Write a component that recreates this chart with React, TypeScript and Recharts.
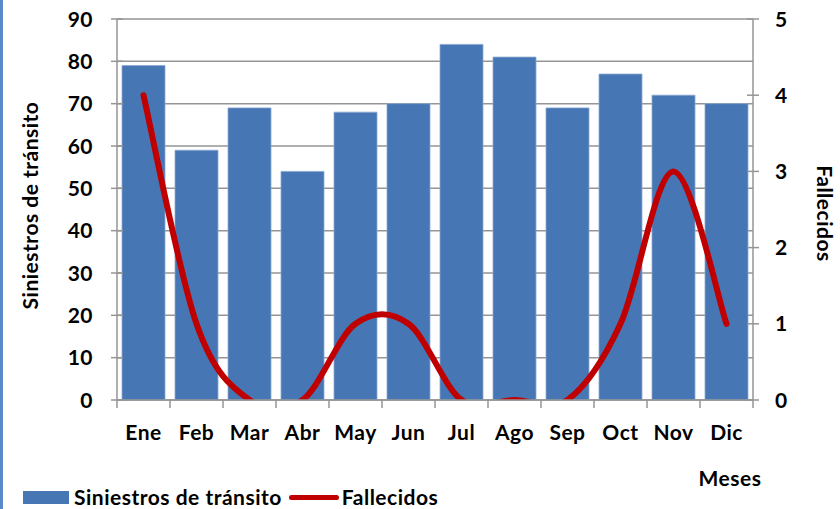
import React from 'react';
import { ComposedChart, Bar, Line, XAxis, YAxis, CartesianGrid, Legend, Label } from 'recharts';

const months = ['Ene', 'Feb', 'Mar', 'Abr', 'May', 'Jun', 'Jul', 'Ago', 'Sep', 'Oct', 'Nov', 'Dic'];
const siniestros = [79, 59, 69, 54, 68, 70, 84, 81, 69, 77, 72, 70];
const fallecidos = [4, 1, 0, 0, 1, 1, 0, 0, 0, 1, 3, 1];
const leftTicks = [0, 10, 20, 30, 40, 50, 60, 70, 80, 90];
const rightTicks = [0, 1, 2, 3, 4, 5];

const data = months.map((m, i) => ({ mes: m, siniestros: siniestros[i], fallecidos: fallecidos[i] }));

const W = 840;
const H = 509;
const MARGIN = { top: 19, right: 27, left: 57, bottom: 69 };
const Y_W = 60;
const X_H = 40;
const PLOT_W = W - MARGIN.left - MARGIN.right - 2 * Y_W;
const BAND = PLOT_W / months.length;

const BAR_COLOR = '#4676b3';
const LINE_COLOR = '#c00000';
const GRID = '#959595';
const FONT = "Lato, 'Open Sans', sans-serif";
const FS = 21;
const LS = 0.5;

// Excel-like smoothed line (Catmull-Rom as cubic Bezier)
function excelSmooth(context: any) {
  let pts: number[][] = [];
  return {
    areaStart() {},
    areaEnd() {},
    lineStart() {
      pts = [];
    },
    point(x: number, y: number) {
      pts.push([+x, +y]);
    },
    lineEnd() {
      const n = pts.length;
      if (!n) return;
      context.moveTo(pts[0][0], pts[0][1]);
      for (let i = 0; i < n - 1; i++) {
        const p0 = pts[i - 1] || pts[i];
        const p1 = pts[i];
        const p2 = pts[i + 1];
        const p3 = pts[i + 2] || p2;
        context.bezierCurveTo(
          p1[0] + (p2[0] - p0[0]) / 6,
          p1[1] + (p2[1] - p0[1]) / 6,
          p2[0] - (p3[0] - p1[0]) / 6,
          p2[1] - (p3[1] - p1[1]) / 6,
          p2[0],
          p2[1]
        );
      }
    },
  };
}

const textStyle = { fontFamily: FONT, fontWeight: 700, fontSize: FS, fill: '#000', letterSpacing: LS } as const;

const LeftTick = (props: any) => {
  const { x, y, payload } = props;
  return (
    <g>
      <line x1={x - 6} x2={x + 6} y1={y} y2={y} stroke={GRID} strokeWidth={1.5} />
      <text x={x - 24} y={y} dy="0.36em" textAnchor="end" style={textStyle}>
        {payload.value}
      </text>
    </g>
  );
};

const RightTick = (props: any) => {
  const { x, y, payload } = props;
  return (
    <g>
      <line x1={x - 6} x2={x + 6} y1={y} y2={y} stroke={GRID} strokeWidth={1.5} />
      <text x={x + 22} y={y} dy="0.36em" textAnchor="start" style={textStyle}>
        {payload.value}
      </text>
    </g>
  );
};

const XTick = (props: any) => {
  const { x, y, payload, index } = props;
  return (
    <g>
      <line x1={x - BAND / 2} x2={x - BAND / 2} y1={y} y2={y + 8} stroke={GRID} strokeWidth={1.5} />
      {index === months.length - 1 && (
        <line x1={x + BAND / 2} x2={x + BAND / 2} y1={y} y2={y + 8} stroke={GRID} strokeWidth={1.5} />
      )}
      <text x={x} y={y + 32} dy="0.36em" textAnchor="middle" style={textStyle}>
        {payload.value}
      </text>
    </g>
  );
};

const LeftTitle = (props: any) => {
  const vb = props.viewBox || { x: MARGIN.left, y: MARGIN.top, width: Y_W, height: 381 };
  const cx = vb.x - 27;
  const cy = vb.y + vb.height / 2 - 4;
  return (
    <text x={cx} y={cy} transform={`rotate(-90 ${cx} ${cy})`} textAnchor="middle" dy="0.36em" style={textStyle}>
      Siniestros de tránsito
    </text>
  );
};

const RightTitle = (props: any) => {
  const vb = props.viewBox || { x: W - MARGIN.right - Y_W, y: MARGIN.top, width: Y_W, height: 381 };
  const cx = vb.x + vb.width + 12;
  const cy = vb.y + vb.height / 2 + 4;
  return (
    <text x={cx} y={cy} transform={`rotate(90 ${cx} ${cy})`} textAnchor="middle" dy="0.36em" style={textStyle}>
      Fallecidos
    </text>
  );
};

const XTitle = (props: any) => {
  const vb = props.viewBox || { x: MARGIN.left + Y_W, y: 400, width: PLOT_W, height: X_H };
  const cx = vb.x + vb.width - 23;
  const cy = vb.y + 78;
  return (
    <text x={cx} y={cy} textAnchor="middle" dy="0.36em" style={textStyle}>
      Meses
    </text>
  );
};

const LegendContent = (props: any) => {
  const items = [...(props.payload || [])].sort((a: any, b: any) => (a.type === 'line' ? 1 : 0) - (b.type === 'line' ? 1 : 0));
  return (
    <div style={{ display: 'flex', alignItems: 'center', fontFamily: FONT, fontWeight: 700, fontSize: FS, letterSpacing: LS, color: '#000', whiteSpace: 'nowrap', lineHeight: '22px' }}>
      {items.map((it: any, i: number) => (
        <div key={i} style={{ display: 'flex', alignItems: 'center' }}>
          {it.type === 'line' ? (
            <span style={{ display: 'inline-block', width: 50, height: 5, borderRadius: 3, background: it.color, margin: '0 3px 0 7px' }} />
          ) : (
            <span style={{ display: 'inline-block', width: 46, height: 13, background: it.color, marginRight: 5 }} />
          )}
          <span>{it.value}</span>
        </div>
      ))}
    </div>
  );
};

export default function App() {
  return (
    <div style={{ position: 'absolute', left: 0, top: 0, width: W, height: H, background: '#fff' }}>
      <div style={{ position: 'absolute', left: 0, top: 0, width: 3, height: H, background: '#5b89c8' }} />
      <ComposedChart width={W} height={H} data={data} margin={MARGIN} barCategoryGap={5}>
        <CartesianGrid yAxisId="left" vertical={false} stroke={GRID} strokeWidth={1.5} />
        <XAxis
          dataKey="mes"
          height={X_H}
          interval={0}
          tickSize={0}
          tickMargin={0}
          tickLine={false}
          axisLine={{ stroke: GRID, strokeWidth: 1.5 }}
          tick={<XTick />}
          label={<Label content={<XTitle />} />}
        />
        <YAxis
          yAxisId="left"
          orientation="left"
          width={Y_W}
          domain={[0, 90]}
          ticks={leftTicks}
          interval={0}
          tickSize={0}
          tickMargin={0}
          tickLine={false}
          axisLine={{ stroke: GRID, strokeWidth: 1.5 }}
          tick={<LeftTick />}
          label={<Label content={<LeftTitle />} />}
        />
        <YAxis
          yAxisId="right"
          orientation="right"
          width={Y_W}
          domain={[0, 5]}
          ticks={rightTicks}
          interval={0}
          allowDataOverflow
          tickSize={0}
          tickMargin={0}
          tickLine={false}
          axisLine={{ stroke: GRID, strokeWidth: 1.5 }}
          tick={<RightTick />}
          label={<Label content={<RightTitle />} />}
        />
        <Bar yAxisId="left" dataKey="siniestros" name="Siniestros de tránsito" fill={BAR_COLOR} stroke="#8aa8d2" strokeWidth={0.8} isAnimationActive={false} legendType="rect" />
        <Line
          yAxisId="right"
          dataKey="fallecidos"
          name="Fallecidos"
          type={excelSmooth as any}
          stroke={LINE_COLOR}
          strokeWidth={6}
          strokeLinecap="round"
          dot={false}
          activeDot={false}
          isAnimationActive={false}
          legendType="line"
        />
        <Legend
          layout="horizontal"
          verticalAlign="middle"
          align="center"
          content={<LegendContent />}
          wrapperStyle={{ left: 23, top: 486, width: 'auto', height: 22 }}
        />
      </ComposedChart>
    </div>
  );
}
